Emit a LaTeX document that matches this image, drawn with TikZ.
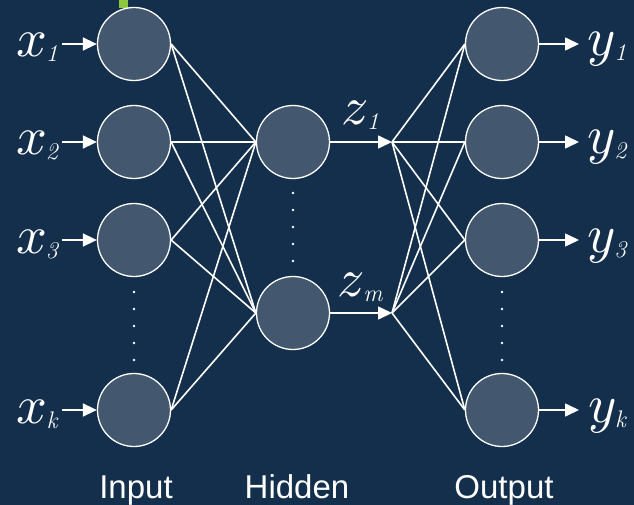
\documentclass[tikz,border=0pt]{standalone}
\usepackage{fontspec}
\usepackage{unicode-math}
\setmathfont{Latin Modern Math}
\setsansfont{Liberation Sans}
\usetikzlibrary{arrows.meta}
\definecolor{navy}{HTML}{142F4C}
\definecolor{neuronfill}{HTML}{43576E}
\definecolor{marker}{HTML}{8DC63F}
\newcommand\unitlabel[2]{$#1$\kern-1pt\raisebox{-5pt}{\fontsize{24}{24}\selectfont\itshape #2}}

\begin{document}
\begin{tikzpicture}[x=1pt,y=-1pt,
  neuron/.style={circle,draw=white,fill=neuronfill,line width=1.3pt,minimum size=73pt,inner sep=0pt},
  link/.style={white,line width=1.6pt},
  flow/.style={white,line width=1.6pt,-{Triangle[length=14pt,width=13pt]}},
  var/.style={text=white,inner sep=0pt,anchor=base,font=\fontsize{54}{54}\selectfont},
  layer/.style={text=white,inner sep=0pt,anchor=base,font=\sffamily\fontsize{33}{33}\selectfont}]
\fill[navy] (0,0) rectangle (634,505);
\useasboundingbox (0,0) rectangle (634,505);
\fill[marker] (119,0) rectangle (128,8);

\foreach \i/\y/\s in {1/44/1,2/142/2,3/240/3,4/410/k}{
  \node[neuron] (in\i) at (134,\y) {};
  \node[neuron] (out\i) at (502,\y) {};
  \node[var] (x\i) at (37,\y+13) {\unitlabel{x}{\s}};
  \node[var] (y\i) at (607,\y+12) {\unitlabel{y}{\s}};
  \coordinate (xs\i) at (62,\y);
  \coordinate (ye\i) at (579,\y);
  \draw[flow] (xs\i) -- (in\i);
  \draw[flow] (out\i) -- (ye\i);
}
\foreach \j/\y/\s in {1/142/1,2/313/m}{
  \node[neuron] (hid\j) at (293,\y) {};
  \coordinate (z\j) at (392,\y);
  \node[var] (zl\j) at (360,\y-17) {\unitlabel{z}{\s}};
  \draw[flow] (hid\j) -- (z\j);
}

\foreach \i in {1,...,4}{
  \foreach \j in {1,2}{
    \draw[link] (in\i.east) -- (hid\j.west);
    \draw[link] (z\j) -- (out\i.west);
  }
}

\foreach \d in {0,...,4}{
  \fill[white] (134,292+\d*17) circle (1.3pt);
  \fill[white] (293,193+\d*17) circle (1.3pt);
  \fill[white] (502,292+\d*17) circle (1.3pt);
}

\node[layer] (lin) at (136,498) {Input};
\node[layer] (lhid) at (297,498) {Hidden};
\node[layer] (lout) at (504,498) {Output};
\end{tikzpicture}
\end{document}
